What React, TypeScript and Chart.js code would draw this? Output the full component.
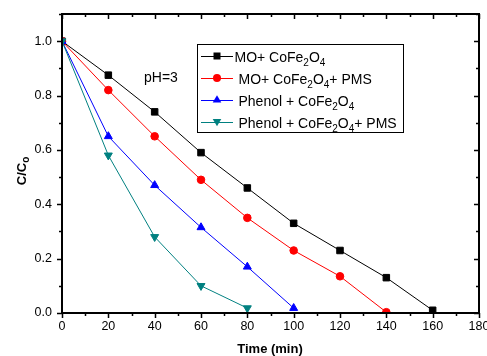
import React, { useEffect, useRef } from "react";
import { Chart, registerables } from "chart.js";

Chart.register(...registerables);

// ---- data ----
const timeMin = [0, 20, 40, 60, 80, 100, 120, 140, 160];
const moCoFe = [1.0, 0.875, 0.74, 0.59, 0.46, 0.33, 0.23, 0.13, 0.01];
const moCoFePms = [1.0, 0.82, 0.65, 0.49, 0.35, 0.23, 0.135, 0.003];
const phenolCoFe = [1.0, 0.65, 0.47, 0.315, 0.17, 0.018];
const phenolCoFePms = [1.0, 0.58, 0.28, 0.1, 0.018];

const seriesNames = [
  "MO+ CoFe_2O_4",
  "MO+ CoFe_2O_4+ PMS",
  "Phenol + CoFe_2O_4",
  "Phenol + CoFe_2O_4+ PMS",
];
const seriesValues = [moCoFe, moCoFePms, phenolCoFe, phenolCoFePms];
const seriesColors = ["#000000", "#ff0000", "#0000ff", "#008080"];
const seriesMarkers = ["rect", "circle", "triangle", "triangleDown"];

const xTicks = [0, 20, 40, 60, 80, 100, 120, 140, 160, 180];
const yTicks = [0, 0.2, 0.4, 0.6, 0.8, 1.0];
const xTitle = "Time (min)";
const yTitle = "C/C_o";
const annotationText = "pH=3";
const annotationAt = { x: 35.4, y: 0.85 };

const FONT = "'Liberation Sans', Arial, Helvetica, sans-serif";

function splitSub(label: string) {
  const parts: { t: string; sub: boolean }[] = [];
  let buf = "";
  for (let i = 0; i < label.length; i++) {
    if (label[i] === "_" && i + 1 < label.length) {
      if (buf) parts.push({ t: buf, sub: false });
      buf = "";
      parts.push({ t: label[i + 1], sub: true });
      i++;
    } else buf += label[i];
  }
  if (buf) parts.push({ t: buf, sub: false });
  return parts;
}

function drawRich(ctx: CanvasRenderingContext2D, label: string, x: number, y: number, size: number, subSize: number, subDrop: number, bold: boolean, align: "left" | "center") {
  const parts = splitSub(label);
  const w = (p: { t: string; sub: boolean }) => {
    ctx.font = `${bold ? "bold " : ""}${p.sub ? subSize : size}px ${FONT}`;
    return ctx.measureText(p.t).width;
  };
  let total = 0;
  parts.forEach((p) => (total += w(p)));
  let cx = align === "center" ? x - total / 2 : x;
  ctx.textAlign = "left";
  ctx.textBaseline = "alphabetic";
  parts.forEach((p) => {
    const ww = w(p);
    ctx.fillText(p.t, cx, p.sub ? y + subDrop : y);
    cx += ww;
  });
}

function drawMarker(ctx: CanvasRenderingContext2D, kind: string, x: number, y: number, color: string) {
  ctx.fillStyle = color;
  ctx.beginPath();
  if (kind === "rect") {
    ctx.rect(x - 3.5, y - 3.5, 7, 7);
  } else if (kind === "circle") {
    ctx.arc(x, y, 4, 0, Math.PI * 2);
  } else if (kind === "triangle") {
    ctx.moveTo(x, y - 4.8);
    ctx.lineTo(x + 4.3, y + 2.6);
    ctx.lineTo(x - 4.3, y + 2.6);
    ctx.closePath();
  } else {
    ctx.moveTo(x, y + 4.8);
    ctx.lineTo(x + 4.3, y - 2.6);
    ctx.lineTo(x - 4.3, y - 2.6);
    ctx.closePath();
  }
  ctx.fill();
}

const framePlugin = {
  id: "originFrame",
  afterDatasetsDraw(chart: any) {
    const ctx: CanvasRenderingContext2D = chart.ctx;
    const { left, right, top, bottom } = chart.chartArea;
    const xs = chart.scales.x;
    const ys = chart.scales.y;
    ctx.save();
    ctx.strokeStyle = "#000";
    // ticks
    ctx.lineWidth = 1.5;
    for (let v = 0; v <= 180 + 1e-9; v += 10) {
      const px = Math.round(xs.getPixelForValue(v)) + 0.5;
      const major = Math.abs(v % 20) < 1e-9;
      const len = major ? 5 : 3;
      ctx.beginPath();
      ctx.moveTo(px, bottom);
      ctx.lineTo(px, bottom + len);
      ctx.moveTo(px, top);
      ctx.lineTo(px, top + len);
      ctx.stroke();
    }
    for (let i = 0; i <= 11; i++) {
      const v = i / 10;
      const py = Math.round(ys.getPixelForValue(v)) + 0.5;
      const major = i % 2 === 0;
      const len = major ? 5 : 3;
      ctx.beginPath();
      ctx.moveTo(left, py);
      ctx.lineTo(left - len, py);
      ctx.moveTo(right, py);
      ctx.lineTo(right - len, py);
      ctx.stroke();
    }
    // frame
    ctx.lineWidth = 2;
    ctx.strokeRect(left, top, right - left, bottom - top);

    // annotation
    ctx.fillStyle = "#000";
    ctx.font = `14px ${FONT}`;
    ctx.textAlign = "left";
    ctx.textBaseline = "alphabetic";
    ctx.fillText(annotationText, xs.getPixelForValue(annotationAt.x), ys.getPixelForValue(annotationAt.y));

    // legend
    const bx = 197.5, by = 44.5, bw = 206, bh = 88;
    ctx.fillStyle = "#fff";
    ctx.fillRect(bx, by, bw, bh);
    ctx.lineWidth = 1;
    ctx.strokeStyle = "#000";
    ctx.strokeRect(bx, by, bw, bh);
    const rowY = [56, 78, 100, 121.5];
    const textX = [234.5, 238.5, 238.5, 238.5];
    seriesNames.forEach((name, i) => {
      const y = rowY[i];
      ctx.strokeStyle = seriesColors[i];
      ctx.lineWidth = 1;
      ctx.beginPath();
      ctx.moveTo(201, Math.round(y) + 0.5);
      ctx.lineTo(233, Math.round(y) + 0.5);
      ctx.stroke();
      drawMarker(ctx, seriesMarkers[i], 217, y, seriesColors[i]);
      ctx.fillStyle = "#000";
      drawRich(ctx, name, textX[i], y + 6, 14, 10, 4, false, "left");
    });

    // axis titles
    ctx.fillStyle = "#000";
    drawRich(ctx, xTitle, 270, 353, 13, 10, 4, true, "center");
    ctx.save();
    ctx.translate(25.5, 171);
    ctx.rotate(-Math.PI / 2);
    drawRich(ctx, yTitle, 0, 0, 13, 10, 3, true, "center");
    ctx.restore();
    ctx.restore();
  },
};

export default function App() {
  const ref = useRef<HTMLCanvasElement | null>(null);
  useEffect(() => {
    if (!ref.current) return;
    const datasets = seriesValues.map((vals, i) => ({
      label: seriesNames[i].replace(/_/g, ""),
      data: vals.map((v, j) => ({ x: timeMin[j], y: v })),
      borderColor: seriesColors[i],
      backgroundColor: seriesColors[i],
      pointBackgroundColor: seriesColors[i],
      pointBorderColor: seriesColors[i],
      borderWidth: 1,
      pointBorderWidth: 1,
      pointStyle: seriesMarkers[i] === "triangleDown" ? "triangle" : seriesMarkers[i],
      pointRotation: seriesMarkers[i] === "triangleDown" ? 180 : 0,
      pointRadius: seriesMarkers[i] === "rect" ? 4.6 : seriesMarkers[i] === "circle" ? 3.8 : 4.6,
      tension: 0,
      order: 4 - i,
    }));
    const chart = new Chart(ref.current, {
      type: "line",
      data: { datasets },
      options: {
        animation: false,
        responsive: false,
        devicePixelRatio: 1,
        layout: { padding: { top: 14, right: 8, left: 0, bottom: 0 } },
        plugins: { legend: { display: false }, tooltip: { enabled: false } },
        scales: {
          x: {
            type: "linear",
            min: 0,
            max: 180,
            grid: { display: false, drawTicks: false },
            border: { display: false },
            afterBuildTicks: (s: any) => {
              s.ticks = xTicks.map((v) => ({ value: v }));
            },
            afterFit: (s: any) => {
              s.height = 43;
              s.paddingLeft = 0;
              s.paddingRight = 0;
            },
            ticks: {
              padding: 6,
              color: "#000",
              maxRotation: 0,
              autoSkip: false,
              font: { family: FONT, size: 12.5 },
              callback: (v: any) => String(v),
            },
          },
          y: {
            type: "linear",
            min: 0,
            max: 1.1,
            grid: { display: false, drawTicks: false },
            border: { display: false },
            afterBuildTicks: (s: any) => {
              s.ticks = yTicks.map((v) => ({ value: v }));
            },
            afterFit: (s: any) => {
              s.width = 62;
              s.paddingTop = 0;
              s.paddingBottom = 0;
            },
            ticks: {
              padding: 10,
              color: "#000",
              autoSkip: false,
              font: { family: FONT, size: 12.5 },
              callback: (v: any) => Number(v).toFixed(1),
            },
          },
        },
      },
      plugins: [framePlugin],
    });
    return () => chart.destroy();
  }, []);
  return (
    <div style={{ position: "absolute", left: 0, top: 0, width: 487, height: 356, background: "#fff" }}>
      <canvas ref={ref} width={487} height={356} />
    </div>
  );
}
